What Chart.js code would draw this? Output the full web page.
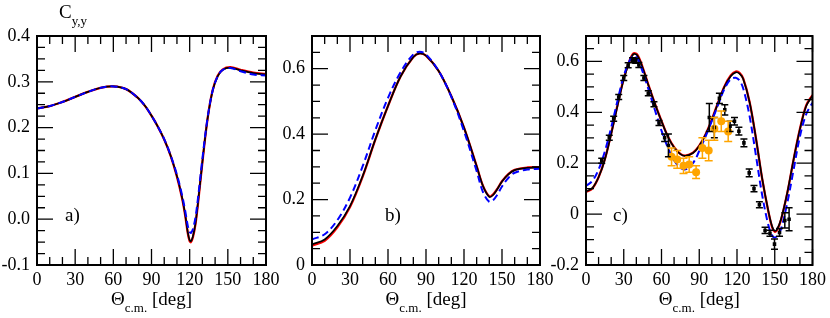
<!DOCTYPE html>
<html lang="en">
<head>
<meta charset="UTF-8">
<title>Cyy</title>
<style>
  body { margin: 0; background: #fff; font-family: "Liberation Serif", serif; }
  #wrap { position: relative; width: 830px; height: 318px; overflow: hidden; background: #fff; }
  #wrap canvas { position: absolute; top: 0; }
  #probe { position: absolute; left: -999px; top: 0; font: 18px "Liberation Serif"; }
</style>
</head>
<body>
<div id="wrap">
  <canvas id="chartA" width="290" height="318" style="left:0px"></canvas>
  <canvas id="chartB" width="290" height="318" style="left:270px"></canvas>
  <canvas id="chartC" width="286" height="318" style="left:544px"></canvas>
</div>
<span id="probe">0.123456789 Θ c.m. [deg]</span>
<script src="https://cdn.jsdelivr.net/npm/chart.js"></script>
<script>
// ---- panel a) ----
const thA = [0, 10, 20, 30, 40, 50, 60, 70, 80, 85, 90, 95, 100, 105, 110, 114, 116.5, 118.5, 120, 121, 122.5, 124.5, 126.5, 130, 134, 138, 142, 146, 152, 160, 170, 180];
const redA = [0.242, 0.247, 0.256, 0.267, 0.278, 0.287, 0.290, 0.284, 0.263, 0.247, 0.226, 0.202, 0.174, 0.139, 0.093, 0.046, 0.008, -0.030, -0.048, -0.050, -0.040, -0.012, 0.033, 0.124, 0.218, 0.281, 0.313, 0.327, 0.332, 0.326, 0.320, 0.317];
const blackA = [0.242, 0.247, 0.256, 0.267, 0.278, 0.287, 0.290, 0.284, 0.263, 0.247, 0.226, 0.202, 0.174, 0.139, 0.094, 0.048, 0.010, -0.028, -0.046, -0.048, -0.038, -0.010, 0.035, 0.125, 0.218, 0.280, 0.312, 0.326, 0.331, 0.325, 0.319, 0.316];
const blueA = [0.242, 0.247, 0.256, 0.267, 0.278, 0.287, 0.290, 0.284, 0.263, 0.247, 0.226, 0.202, 0.175, 0.140, 0.097, 0.053, 0.018, -0.014, -0.028, -0.030, -0.022, 0.003, 0.045, 0.132, 0.220, 0.280, 0.312, 0.326, 0.330, 0.323, 0.316, 0.314];
const yTicksA = [-0.1, 0, 0.1, 0.2, 0.3, 0.4];

// ---- panel b) ----
const thB = [0, 10, 20, 30, 40, 50, 60, 70, 80, 85, 90, 100, 110, 120, 130, 135, 140, 143, 146, 150, 155, 160, 170, 180];
const redB = [0.059, 0.074, 0.115, 0.177, 0.270, 0.383, 0.486, 0.577, 0.636, 0.647, 0.640, 0.593, 0.516, 0.420, 0.302, 0.242, 0.210, 0.216, 0.231, 0.256, 0.278, 0.291, 0.298, 0.299];
const blackB = [0.063, 0.078, 0.119, 0.180, 0.272, 0.384, 0.486, 0.577, 0.636, 0.647, 0.640, 0.593, 0.516, 0.420, 0.302, 0.241, 0.208, 0.214, 0.230, 0.255, 0.277, 0.290, 0.297, 0.298];
const blueB = [0.078, 0.094, 0.137, 0.206, 0.302, 0.412, 0.511, 0.590, 0.644, 0.652, 0.644, 0.593, 0.514, 0.409, 0.287, 0.223, 0.193, 0.198, 0.213, 0.240, 0.266, 0.282, 0.292, 0.294];
const yTicksB = [0, 0.2, 0.4, 0.6];

// ---- panel c) ----
const thC = [0, 5, 10, 15, 20, 25, 30, 35, 38, 41, 45, 50, 55, 60, 65, 70, 75, 79, 85, 90, 95, 100, 105, 110, 115, 119, 122, 125, 130, 135, 140, 145, 148, 150, 152, 155, 160, 165, 170, 175, 180];
const redC = [0.087, 0.101, 0.145, 0.216, 0.317, 0.428, 0.533, 0.608, 0.632, 0.625, 0.577, 0.502, 0.431, 0.366, 0.306, 0.263, 0.237, 0.230, 0.241, 0.269, 0.313, 0.372, 0.439, 0.502, 0.545, 0.560, 0.555, 0.532, 0.441, 0.300, 0.139, 0.008, -0.053, -0.069, -0.061, -0.022, 0.084, 0.215, 0.334, 0.427, 0.468];
const blackC = [0.089, 0.102, 0.145, 0.215, 0.315, 0.425, 0.530, 0.605, 0.629, 0.622, 0.575, 0.500, 0.430, 0.365, 0.305, 0.262, 0.236, 0.229, 0.240, 0.268, 0.312, 0.370, 0.437, 0.500, 0.542, 0.557, 0.552, 0.530, 0.440, 0.300, 0.140, 0.010, -0.050, -0.066, -0.058, -0.020, 0.085, 0.215, 0.333, 0.425, 0.465];
const blueC = [0.111, 0.130, 0.175, 0.247, 0.340, 0.445, 0.543, 0.607, 0.622, 0.610, 0.560, 0.485, 0.405, 0.328, 0.262, 0.212, 0.182, 0.176, 0.200, 0.248, 0.305, 0.366, 0.430, 0.492, 0.530, 0.536, 0.525, 0.493, 0.385, 0.232, 0.075, -0.045, -0.085, -0.092, -0.085, -0.058, 0.045, 0.175, 0.305, 0.393, 0.438];
const yTicksC = [-0.2, 0, 0.2, 0.4, 0.6];

// measured data in c)
const blkTheta = [12.5, 18.5, 22, 26, 30, 33.5, 37, 39.5, 42, 46, 49.5, 54, 58, 62.5, 65.5, 98, 102, 106, 110.3, 114.5, 118, 121.5, 125.5, 129.7, 133.5, 137.8, 142.3, 146.2, 149.8, 153.8, 158, 161.4];
const blkVal = [0.21, 0.30, 0.375, 0.46, 0.535, 0.585, 0.605, 0.603, 0.586, 0.535, 0.475, 0.432, 0.358, 0.30, 0.27, 0.38, 0.34, 0.455, 0.41, 0.345, 0.365, 0.326, 0.28, 0.162, 0.10, 0.037, -0.064, -0.075, -0.118, -0.072, -0.025, -0.02];
const blkErr = [0.01, 0.01, 0.01, 0.01, 0.01, 0.01, 0.01, 0.01, 0.01, 0.01, 0.01, 0.01, 0.01, 0.015, 0.045, 0.055, 0.04, 0.02, 0.02, 0.02, 0.015, 0.015, 0.015, 0.015, 0.012, 0.012, 0.012, 0.012, 0.02, 0.015, 0.03, 0.045];
const orgTheta = [68, 72.5, 77.5, 82, 87.5, 92.5, 97.5, 102, 107.5, 113];
const orgVal = [0.225, 0.215, 0.19, 0.195, 0.165, 0.26, 0.25, 0.335, 0.365, 0.325];
const orgErr = [0.035, 0.035, 0.03, 0.03, 0.025, 0.04, 0.04, 0.045, 0.04, 0.04];

const xTicks = [0, 30, 60, 90, 120, 150, 180];
const FONT = '"Liberation Serif"';

function pts(xs, ys) {
    return xs.map((x, i) => ({ x: x, y: ys[i] }));
}

function curve(label, xs, ys, color, width, dash, order) {
    return {
        type: 'line',
        label: label,
        data: pts(xs, ys),
        borderColor: color,
        borderWidth: width,
        borderDash: dash,
        pointRadius: 0,
        fill: false,
        tension: 0.35,
        order: order
    };
}

// inner ticks on all 4 sides + frame
const frameTicks = {
    id: 'frameTicks',
    afterDatasetsDraw(chart, args, o) {
        const { ctx, chartArea: a, scales: { x, y } } = chart;
        ctx.save();
        ctx.strokeStyle = '#000';
        ctx.lineWidth = 1.3;
        ctx.beginPath();
        const n = Math.round((x.max - x.min) / o.xMinor);
        for (let i = 0; i <= n; i++) {
            const v = x.min + i * o.xMinor;
            const px = x.getPixelForValue(v);
            const len = (Math.abs(v % o.xMajor) < 1e-6) ? 16 : 8;
            ctx.moveTo(px, a.bottom); ctx.lineTo(px, a.bottom - len);
            ctx.moveTo(px, a.top); ctx.lineTo(px, a.top + len);
        }
        const m = Math.round((y.max - y.min) / o.yMinor);
        for (let i = 0; i <= m; i++) {
            const v = y.min + i * o.yMinor;
            const py = y.getPixelForValue(v);
            const r = v / o.yMajor;
            const len = (Math.abs(r - Math.round(r)) < 1e-6) ? 16 : 8;
            ctx.moveTo(a.left, py); ctx.lineTo(a.left + len, py);
            ctx.moveTo(a.right, py); ctx.lineTo(a.right - len, py);
        }
        ctx.stroke();
        ctx.lineWidth = 2;
        ctx.strokeRect(a.left, a.top, a.right - a.left, a.bottom - a.top);
        ctx.restore();
    }
};

// vertical error bars drawn from the scales
const errorBars = {
    id: 'errorBars',
    afterDatasetsDraw(chart, args, o) {
        if (!o.sets) return;
        const { ctx, scales: { x, y } } = chart;
        ctx.save();
        o.sets.forEach(s => {
            ctx.strokeStyle = s.color;
            ctx.lineWidth = 1.5;
            ctx.beginPath();
            s.xs.forEach((xv, i) => {
                const px = x.getPixelForValue(xv);
                const y1 = y.getPixelForValue(s.ys[i] + s.err[i]);
                const y2 = y.getPixelForValue(s.ys[i] - s.err[i]);
                ctx.moveTo(px, y1); ctx.lineTo(px, y2);
                ctx.moveTo(px - s.cap, y1); ctx.lineTo(px + s.cap, y1);
                ctx.moveTo(px - s.cap, y2); ctx.lineTo(px + s.cap, y2);
            });
            ctx.stroke();
        });
        ctx.restore();
    }
};

// axis title with subscript, panel letter, y title
const labels = {
    id: 'labels',
    afterDraw(chart, args, o) {
        const { ctx, chartArea: a } = chart;
        ctx.save();
        ctx.fillStyle = '#000';
        ctx.textBaseline = 'alphabetic';
        ctx.textAlign = 'left';
        // x title: Θ_c.m. [deg]
        ctx.font = '19px ' + FONT;
        const w1 = ctx.measureText('\u0398').width;
        const w3 = ctx.measureText(' [deg]').width;
        ctx.font = '13px ' + FONT;
        const w2 = ctx.measureText('c.m.').width;
        let x0 = (a.left + a.right) / 2 - (w1 + w2 + w3) / 2;
        const base = 305;
        ctx.font = '19px ' + FONT;
        ctx.fillText('\u0398', x0, base);
        ctx.font = '13px ' + FONT;
        ctx.fillText('c.m.', x0 + w1, base + 7);
        ctx.font = '19px ' + FONT;
        ctx.fillText(' [deg]', x0 + w1 + w2, base);
        // panel letter
        ctx.fillText(o.letter, a.left + o.letterDx, 221);
        // y title
        if (o.ytitle) {
            ctx.font = '19px ' + FONT;
            ctx.fillText('C', 59, 18);
            const wc = ctx.measureText('C').width;
            ctx.font = '13px ' + FONT;
            ctx.fillText('y,y', 59 + wc, 25);
        }
        ctx.restore();
    }
};

function makeChart(id, datasets, yMin, yMax, yTicks, yMajor, yFmt, yWidth, padRight, letter, letterDx, ytitle, extra) {
    return new Chart(document.getElementById(id), {
        type: 'line',
        data: { datasets: datasets },
        options: {
            responsive: false,
            maintainAspectRatio: false,
            animation: false,
            layout: { padding: { left: 0, right: padRight, top: 36, bottom: 0 } },
            plugins: {
                legend: { display: false },
                tooltip: { enabled: false },
                frameTicks: { xMinor: 10, xMajor: 30, yMinor: yMajor / 4, yMajor: yMajor },
                errorBars: extra || {},
                labels: { letter: letter, letterDx: letterDx, ytitle: ytitle }
            },
            scales: {
                x: {
                    type: 'linear',
                    min: 0,
                    max: 180,
                    afterBuildTicks: s => { s.ticks = xTicks.map(v => ({ value: v })); },
                    afterFit: s => { s.height = 53; },
                    grid: { display: false, drawTicks: false },
                    border: { display: false },
                    ticks: {
                        color: '#000',
                        padding: 4,
                        maxRotation: 0,
                        font: { family: FONT, size: 18 },
                        callback: v => String(v)
                    }
                },
                y: {
                    type: 'linear',
                    min: yMin,
                    max: yMax,
                    afterBuildTicks: s => { s.ticks = yTicks.map(v => ({ value: v })); },
                    afterFit: s => { s.width = yWidth; },
                    grid: { display: false, drawTicks: false },
                    border: { display: false },
                    ticks: {
                        color: '#000',
                        padding: 7,
                        font: { family: FONT, size: 18 },
                        callback: yFmt
                    }
                }
            }
        },
        plugins: [frameTicks, errorBars, labels]
    });
}

const fmtA = v => v.toFixed(1);
const fmtBC = v => (Math.abs(v) < 1e-9 ? '0' : v.toFixed(1));

function drawAll() {
    makeChart('chartA', [
        curve('red', thA, redA, '#ff0000', 2.3, [], 3),
        curve('black', thA, blackA, '#000000', 1.7, [], 2),
        curve('blue', thA, blueA, '#0000ff', 2, [7, 4], 1)
    ], -0.1, 0.4, yTicksA, 0.1, fmtA, 37, 24, 'a)', 28, true);

    makeChart('chartB', [
        curve('red', thB, redB, '#ff0000', 2.3, [], 3),
        curve('black', thB, blackB, '#000000', 1.7, [], 2),
        curve('blue', thB, blueB, '#0000ff', 2, [7, 4], 1)
    ], 0, 0.7, yTicksB, 0.2, fmtBC, 42, 20, 'b)', 73, false);

    makeChart('chartC', [
        curve('red', thC, redC, '#ff0000', 2.3, [], 3),
        curve('black', thC, blackC, '#000000', 1.7, [], 2),
        curve('blue', thC, blueC, '#0000ff', 2, [7, 4], 1),
        {
            type: 'scatter', label: 'data1', data: pts(blkTheta, blkVal), order: 0,
            pointStyle: 'rect', pointRadius: 2.5, backgroundColor: '#000', borderColor: '#000', borderWidth: 0, showLine: false
        },
        {
            type: 'scatter', label: 'data2', data: pts(orgTheta, orgVal), order: 0,
            pointStyle: 'circle', pointRadius: 4, backgroundColor: '#ffa500', borderColor: '#ffa500', borderWidth: 0, showLine: false
        }
    ], -0.2, 0.7, yTicksC, 0.2, fmtBC, 42, 16, 'c)', 27, false, {
        sets: [
            { xs: blkTheta, ys: blkVal, err: blkErr, color: '#000', cap: 3.5 },
            { xs: orgTheta, ys: orgVal, err: orgErr, color: '#ffa500', cap: 4 }
        ]
    });
}

document.fonts.load('18px "Liberation Serif"').then(drawAll, drawAll);
</script>
</body>
</html>
